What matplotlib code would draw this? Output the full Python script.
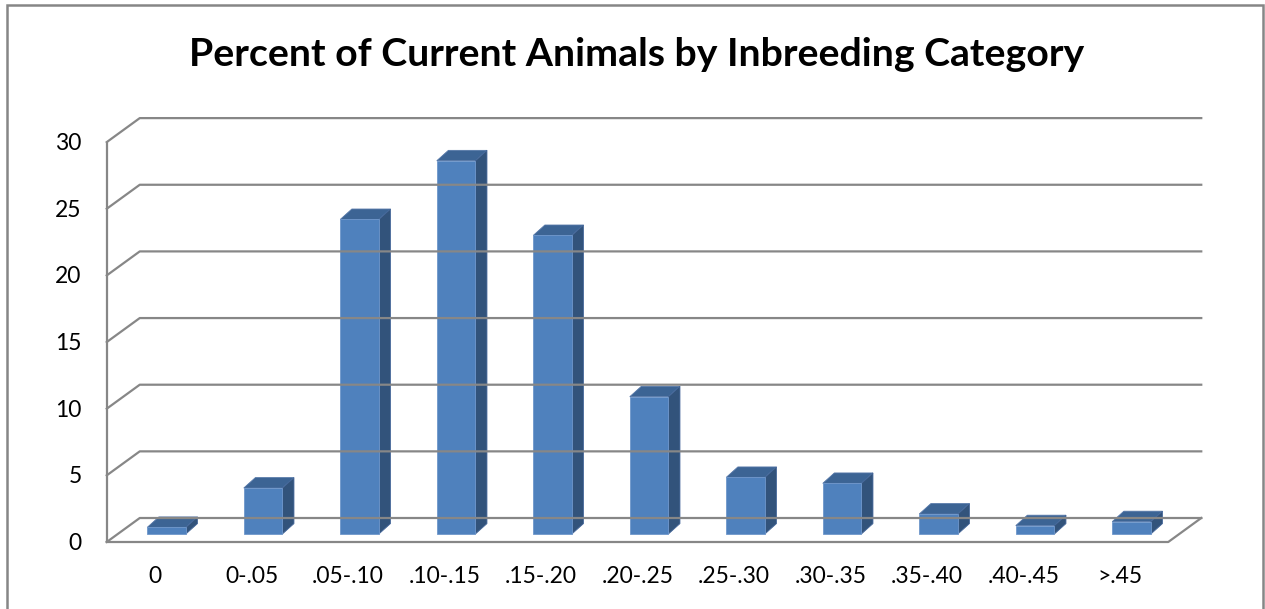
import matplotlib
matplotlib.use('Agg')
import matplotlib.pyplot as plt
from matplotlib.patches import Polygon, Rectangle

categories = ['0', '0-.05', '.05-.10', '.10-.15', '.15-.20', '.20-.25',
              '.25-.30', '.30-.35', '.35-.40', '.40-.45', '>.45']
percent = [0.5, 3.45, 23.6, 28.0, 22.4, 10.3, 4.25, 3.8, 1.5, 0.63, 0.93]
yticks = [0, 5, 10, 15, 20, 25, 30]

# fake 3d settings (data units)
DX, DY = 0.342, 1.8          # wall depth
BX, BY = 0.12, 0.6           # bar front face offset from front plane
BDX, BDY = 0.12, 0.78        # bar depth
BW = 0.40

grid_c = '#878787'
front_c = '#4F81BD'
top_c = '#3C6494'
side_c = '#32537B'

fig = plt.figure(figsize=(12.65, 6.09), dpi=100)
ax = fig.add_axes([0, 0, 1, 1])
ax.set_xlim(-155 / 96.5, (1265 - 155) / 96.5)
ax.set_ylim((542 - 609) / 13.33, 542 / 13.33)
ax.axis('off')

x0, x1 = -0.5, 10.5
ymax = yticks[-1]

# walls and gridlines
ax.plot([x0, x0], [0, ymax], color=grid_c, lw=1.6, solid_capstyle='butt')
for t in yticks:
    ax.plot([x0, x0 + DX, x1 + DX], [t, t + DY, t + DY], color=grid_c, lw=1.6)
    ax.text(x0 - 0.26, t - 0.1, str(t), ha='right', va='center', fontsize=16.5,
            family='Lato')
ax.plot([x0, x1, x1 + DX], [0, 0, DY], color=grid_c, lw=1.6)

# bars
for i, v in enumerate(percent):
    l = i + BX - BW / 2
    r = l + BW
    b = BY
    t = BY + v
    ax.add_patch(Polygon([(l, t), (r, t), (r + BDX, t + BDY), (l + BDX, t + BDY)],
                         closed=True, fc=top_c, ec='#5577A8', lw=0.6))
    ax.add_patch(Polygon([(r, b), (r + BDX, b + BDY), (r + BDX, t + BDY), (r, t)],
                         closed=True, fc=side_c, ec='#45679A', lw=0.6))
    ax.add_patch(Rectangle((l, b), BW, v, fc=front_c, ec='#6F97CB', lw=0.6))
    ax.text(i, -2.6, categories[i], ha='center', va='center', fontsize=16.5,
            family='Lato')

fig.text(0.503, 1 - 55 / 609, 'Percent of Current Animals by Inbreeding Category',
         ha='center', va='center', fontsize=28.3, fontweight='bold', family='Lato')

# chart border
fig.add_artist(Rectangle((7 / 1265, -0.01), 1256 / 1265, 1 - 5 / 609 + 0.01,
                         transform=fig.transFigure, fill=False, ec='#868686', lw=1.8))

fig.savefig('out.png', dpi=100)
